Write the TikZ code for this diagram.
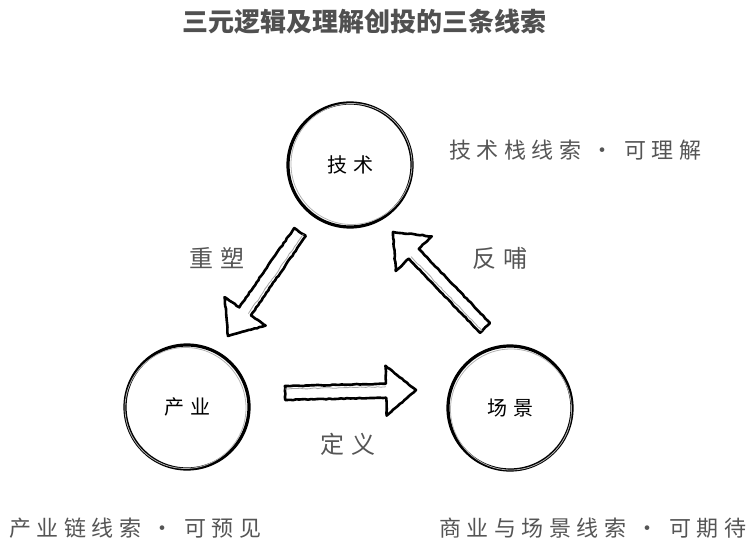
\documentclass[tikz,border=0pt]{standalone}
\usepackage{fontspec}
\usetikzlibrary{calc,decorations.pathmorphing}
\newfontfamily\cjk{Noto Sans CJK SC}
\newfontfamily\cjkwide[LetterSpace=25]{Noto Sans CJK SC}
\newfontfamily\cjkmid[LetterSpace=30]{Noto Sans CJK SC}
\definecolor{titlegray}{HTML}{505050}
\definecolor{labelgray}{HTML}{555555}
\newcommand\blockarrow[2]{%
  \coordinate (hb) at ($(#2)!30pt!(#1)$);
  \draw[blockarr] ($(#1)!7pt!90:(#2)$) -- ($(hb)!7pt!90:(#2)$) -- ($(hb)!25pt!90:(#2)$) -- (#2)
    -- ($(hb)!25pt!-90:(#2)$) -- ($(hb)!7pt!-90:(#2)$) -- ($(#1)!7pt!-90:(#2)$) -- cycle;
  \draw[blockarr2] ($(#1)!4pt!90:(#2)$) -- ($(hb)!4pt!90:(#2)$);
}
\begin{document}
\begin{tikzpicture}[x=1pt,y=-1pt,
  sketch/.style={decorate,decoration={random steps,segment length=3pt,amplitude=0.45pt}},
  ring/.style={circle,minimum size=124pt,inner sep=0pt,draw=black,line width=3.2pt,
    font=\cjkmid\fontsize{20}{20}\selectfont,text=black},
  blockarr/.style={draw=black,fill=white,line width=2.6pt,line join=round,sketch},
  blockarr2/.style={draw=gray!70,line width=0.8pt,sketch},
  cluelabel/.style={anchor=west,inner sep=0pt,text=labelgray,font=\cjkwide\fontsize{22}{22}\selectfont},
  edgelabel/.style={inner sep=0pt,text=labelgray,font=\cjkmid\fontsize{24}{24}\selectfont},
  titletext/.style={inner sep=0pt,text=titlegray,font=\cjk\bfseries\fontsize{26}{26}\selectfont}]
\useasboundingbox (0,0) rectangle (754,553);
\node[titletext] (title) at (364,22) {三元逻辑及理解创投的三条线索};
\node[ring] (jishu) at (350,165) {技术};
\node[ring] (chanye) at (187,407) {产业};
\node[ring] (changjing) at (510,408) {场景};
\draw[gray!60,line width=0.8pt] ($(jishu)+(1.5,-1)$) circle (60.5);
\draw[gray!60,line width=0.8pt] ($(chanye)+(-1.5,1)$) circle (60.5);
\draw[gray!60,line width=0.8pt] ($(changjing)+(1,1.5)$) circle (60.5);
\node[cluelabel] (l1) at (449,150) {技术栈线索 · 可理解};
\node[cluelabel] (l2) at (9,528) {产业链线索 · 可预见};
\node[cluelabel] (l3) at (439,528) {商业与场景线索 · 可期待};
\node[edgelabel] (e1) at (217,258) {重塑};
\node[edgelabel] (e2) at (500,258) {反哺};
\node[edgelabel] (e3) at (348,444) {定义};
\coordinate (a1s) at ($(jishu)+(-50,67)$);
\coordinate (a1t) at ($(chanye)+(41,-71)$);
\coordinate (a2s) at ($(changjing)+(-25,-80)$);
\coordinate (a2t) at ($(jishu)+(43,67)$);
\coordinate (a3s) at ($(chanye)+(98,-14)$);
\coordinate (a3t) at ($(changjing)+(-94,-18)$);
\blockarrow{a1s}{a1t}
\blockarrow{a2s}{a2t}
\blockarrow{a3s}{a3t}
\end{tikzpicture}
\end{document}
